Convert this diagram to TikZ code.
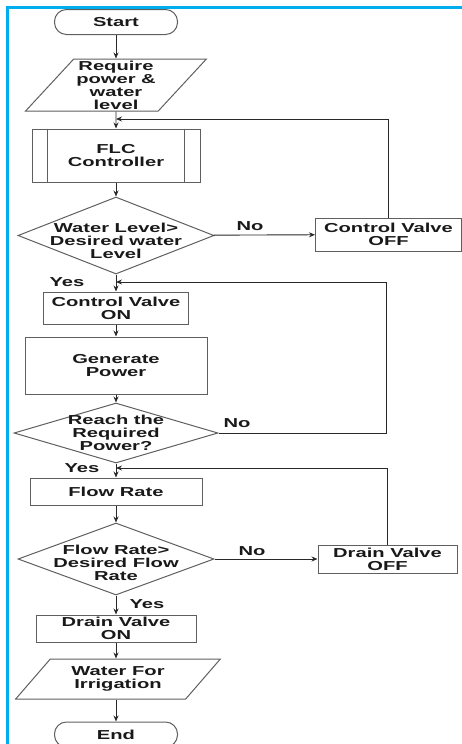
\documentclass[tikz,border=0pt]{standalone}
\usepackage{fontspec}
\setmainfont{Liberation Sans}[FakeStretch=1.55]
\usetikzlibrary{shapes.geometric, arrows.meta, positioning}

\definecolor{framecyan}{RGB}{0,174,239}
\definecolor{shapegray}{RGB}{95,95,95}
\definecolor{linegray}{RGB}{40,40,40}

\begin{document}
\begin{tikzpicture}[x=1pt, y=-1pt, >={Stealth[length=6pt, width=5pt]},
    font=\bfseries\fontsize{13}{13}\selectfont,
    every node/.style={inner sep=0pt, align=center, text=black!90},
    box/.style={draw=shapegray, line width=1pt, rectangle},
    term/.style={box, rounded corners=12pt, minimum width=123pt, minimum height=25pt},
    io/.style={draw=shapegray, line width=1pt, trapezium, trapezium stretches=true},
    decision/.style={draw=shapegray, line width=1pt, diamond},
    flow/.style={->, draw=linegray, line width=0.9pt}]
                \clip (0,0) rectangle (462,744);
                \draw[framecyan, line width=2.2pt] (7.5,7.5) rectangle (480,760);

                \node[term] (start) at (116,22) {Start};
                \node[io, trapezium left angle=47, trapezium right angle=133,
                      minimum width=181pt, minimum height=52pt] (req) at (116,85)
                      {Require\\power \&\\water\\level};
                \node[box, minimum width=168pt, minimum height=53pt] (flc) at (116,155.5)
                      {FLC\\Controller};
                \draw[draw=shapegray, line width=1pt] ([xshift=16pt]flc.north west) -- ([xshift=16pt]flc.south west);
                \draw[draw=shapegray, line width=1pt] ([xshift=-16pt]flc.north east) -- ([xshift=-16pt]flc.south east);

                \node[decision, minimum width=196pt, minimum height=77pt,
                      label={[yshift=-5pt]center:{Water Level>\\Desired water\\Level}}] (d1) at (116,235.5) {};
                \node[box, minimum width=146pt, minimum height=33pt] (cvoff) at (388.5,234.5)
                      {Control Valve\\OFF};

                \node[box, minimum width=145pt, minimum height=32pt] (cvon) at (116,308)
                      {Control Valve\\ON};
                \node[box, minimum width=182pt, minimum height=57pt] (genp) at (116,365.5)
                      {Generate\\Power};
                \node[decision, minimum width=204pt, minimum height=60pt,
                      label={center:{Reach the\\Required\\Power?}}] (d2) at (116,433) {};

                \node[box, minimum width=172pt, minimum height=27pt] (rate) at (116,491.5)
                      {Flow Rate};
                \node[decision, minimum width=196pt, minimum height=72pt,
                      label={[yshift=-4pt]center:{Flow Rate>\\Desired Flow\\Rate}}] (d3) at (116,559) {};
                \node[box, minimum width=139pt, minimum height=28pt] (dvoff) at (387.5,559)
                      {Drain Valve\\OFF};

                \node[box, minimum width=160pt, minimum height=27pt] (dvon) at (116,628.5)
                      {Drain Valve\\ON};
                \node[io, trapezium left angle=46, trapezium right angle=134,
                      minimum width=205pt, minimum height=40pt] (irr) at (118,679)
                      {Water For\\Irrigation};
                \node[term] (end) at (116,734.5) {End};

                % Yes / No labels
                \node (no1) at (250,226) {No};
                \node (yes1) at (67,282) {Yes};
                \node (no2) at (237,423) {No};
                \node (yes2) at (82,468) {Yes};
                \node (no3) at (252,551) {No};
                \node (yes3) at (147,604) {Yes};

                % Joins on the main line
                \coordinate (j1) at (116,119);
                \coordinate (j2) at (116,282);
                \coordinate (r2) at (386,282);
                \coordinate (j3) at (116,468);

                % Connections: main line
                \draw[flow] (start) -- (req);
                \draw[flow] (req) -- (flc);
                \draw[flow] (flc) -- (d1);
                \draw[flow] (d1) -- (cvon);
                \draw[flow] (cvon) -- (genp);
                \draw[flow] (genp) -- (d2);
                \draw[flow] (d2) -- (rate);
                \draw[flow] (rate) -- (d3);
                \draw[flow] (d3) -- (dvon);
                \draw[flow] (dvon) -- (dvon |- irr.north);
                \draw[flow] (dvon |- irr.south) -- (end);

                % Connections: No branches and loops back
                \draw[flow] (d1) -- (cvoff);
                \draw[flow] (cvoff.north) |- (j1);
                \draw[flow] (d2.east) -| (r2) -- (j2);
                \draw[flow] (d3) -- (dvoff);
                \draw[flow] (dvoff.north) |- (j3);
            \end{tikzpicture}
\end{document}
